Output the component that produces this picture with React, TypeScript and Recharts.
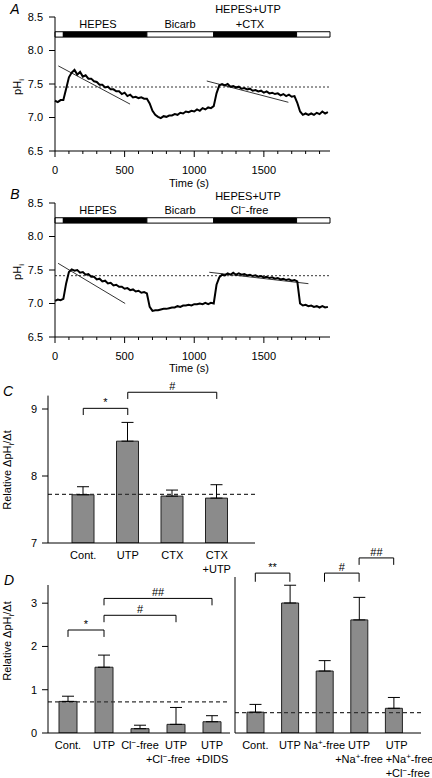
import React from 'react';
import {
  LineChart, Line, BarChart, Bar, ErrorBar, XAxis, YAxis,
  ReferenceArea, ReferenceLine,
} from 'recharts';

const FONT = '"Liberation Sans", Arial, Helvetica, sans-serif';

// pHi recordings, [time (s), pHi]
const traceA: [number, number][] = [
  [0, 7.25], [20, 7.23], [40, 7.26], [60, 7.26], [80, 7.43], [100, 7.6], [120, 7.67], [140, 7.71],
  [160, 7.64], [180, 7.68], [200, 7.61], [220, 7.63], [240, 7.58], [260, 7.58], [280, 7.54], [300, 7.53],
  [320, 7.49], [340, 7.49], [360, 7.45], [380, 7.46], [400, 7.42], [420, 7.42], [440, 7.39], [460, 7.39],
  [480, 7.35], [500, 7.37], [520, 7.32], [540, 7.34], [560, 7.3], [580, 7.31], [600, 7.29], [620, 7.3],
  [640, 7.28], [660, 7.28], [680, 7.21], [700, 7.1], [720, 7.04], [740, 7.01], [760, 6.99], [780, 7.02],
  [800, 7.01], [820, 7.03], [840, 7.03], [860, 7.05], [880, 7.04], [900, 7.07], [920, 7.06], [940, 7.09],
  [960, 7.08], [980, 7.1], [1000, 7.09], [1020, 7.12], [1040, 7.1], [1060, 7.14], [1080, 7.12], [1100, 7.15],
  [1120, 7.14], [1140, 7.17], [1160, 7.36], [1180, 7.48], [1200, 7.5], [1220, 7.48], [1240, 7.5], [1260, 7.46],
  [1280, 7.47], [1300, 7.45], [1320, 7.46], [1340, 7.43], [1360, 7.44], [1380, 7.42], [1400, 7.43], [1420, 7.4],
  [1440, 7.41], [1460, 7.39], [1480, 7.4], [1500, 7.37], [1520, 7.39], [1540, 7.36], [1560, 7.37], [1580, 7.35],
  [1600, 7.36], [1620, 7.33], [1640, 7.35], [1660, 7.32], [1680, 7.34], [1700, 7.31], [1720, 7.32], [1740, 7.22],
  [1760, 7.09], [1780, 7.04], [1800, 7.06], [1820, 7.04], [1840, 7.06], [1860, 7.04], [1880, 7.07], [1900, 7.05],
  [1920, 7.09], [1940, 7.06], [1960, 7.08],
];

const traceB: [number, number][] = [
  [0, 7.04], [20, 7.06], [40, 7.05], [60, 7.07], [80, 7.3], [100, 7.47], [120, 7.51], [140, 7.49],
  [160, 7.5], [180, 7.46], [200, 7.47], [220, 7.43], [240, 7.44], [260, 7.4], [280, 7.4], [300, 7.36],
  [320, 7.37], [340, 7.33], [360, 7.34], [380, 7.3], [400, 7.31], [420, 7.27], [440, 7.28], [460, 7.25],
  [480, 7.25], [500, 7.22], [520, 7.23], [540, 7.2], [560, 7.21], [580, 7.18], [600, 7.19], [620, 7.16],
  [640, 7.17], [660, 7.15], [680, 6.95], [700, 6.89], [720, 6.9], [740, 6.9], [760, 6.91], [780, 6.92],
  [800, 6.92], [820, 6.93], [840, 6.94], [860, 6.94], [880, 6.96], [900, 6.95], [920, 6.97], [940, 6.97],
  [960, 6.98], [980, 6.97], [1000, 6.99], [1020, 6.99], [1040, 7.0], [1060, 6.99], [1080, 7.01], [1100, 6.99],
  [1120, 7.01], [1140, 7.0], [1160, 7.28], [1180, 7.39], [1200, 7.43], [1220, 7.42], [1240, 7.45], [1260, 7.43],
  [1280, 7.46], [1300, 7.43], [1320, 7.45], [1340, 7.43], [1360, 7.44], [1380, 7.42], [1400, 7.43], [1420, 7.41],
  [1440, 7.42], [1460, 7.4], [1480, 7.41], [1500, 7.39], [1520, 7.4], [1540, 7.38], [1560, 7.39], [1580, 7.37],
  [1600, 7.38], [1620, 7.36], [1640, 7.37], [1660, 7.35], [1680, 7.36], [1700, 7.34], [1720, 7.35], [1740, 7.33],
  [1760, 7.0], [1780, 6.97], [1800, 6.98], [1820, 6.96], [1840, 6.97], [1860, 6.95], [1880, 6.96], [1900, 6.94],
  [1920, 6.96], [1940, 6.94], [1960, 6.95],
];

const timeTicks = [0, 100, 200, 300, 400, 500, 600, 700, 800, 900, 1000, 1100, 1200, 1300, 1400, 1500, 1600, 1700, 1800, 1900];
const phTicks = [6.5, 7, 7.5, 8, 8.5];

// solution bar: segment edges (s) and which segments are filled
const stimEdges = [0, 60, 660, 1140, 1735, 1975];
const stimFilled = [false, true, false, true, false];

// fitted slopes [t1, pH1, t2, pH2]
const slopesA = [[24, 7.77, 539, 7.2], [1090, 7.545, 1676, 7.227]];
const slopesB = [[22, 7.6, 504, 7.0], [1108, 7.466, 1820, 7.296]];
const refPhA = 7.455;
const refPhB = 7.415;

// panel C
const cCats = ['Cont.', 'UTP', 'CTX', 'CTX\n+UTP'];
const cMeans = [7.72, 8.52, 7.7, 7.67];
const cErrs = [0.12, 0.28, 0.09, 0.2];
const cTicks = [7, 8, 9];
const cRef = 7.725;

// panel D
const dLeftCats = ['Cont.', 'UTP', 'Cl⁻-free', 'UTP\n+Cl⁻-free', 'UTP\n+DIDS'];
const dLeftMeans = [0.73, 1.52, 0.1, 0.2, 0.26];
const dLeftErrs = [0.12, 0.28, 0.08, 0.39, 0.14];
const dLeftRef = 0.72;
const dRightCats = ['Cont.', 'UTP', 'Na⁺-free', 'UTP\n+Na⁺-free', 'UTP\n+Na⁺-free\n+Cl⁻-free'];
const dRightMeans = [0.48, 3.0, 1.43, 2.61, 0.57];
const dRightErrs = [0.18, 0.41, 0.24, 0.52, 0.25];
const dRightRef = 0.47;
const dTicks = [0, 1, 2, 3];

type Bracket = { from: string; to: string; y: number; leg: number; mark: string };
const cBrackets: Bracket[] = [
  { from: 'Cont.', to: 'UTP', y: 9.01, leg: 8.91, mark: '*' },
  { from: 'UTP', to: 'CTX\n+UTP', y: 9.25, leg: 9.15, mark: '#' },
];
const dLeftBrackets: Bracket[] = [
  { from: 'Cont.', to: 'UTP', y: 2.38, leg: 2.22, mark: '*' },
  { from: 'UTP', to: 'UTP\n+Cl⁻-free', y: 2.72, leg: 2.56, mark: '#' },
  { from: 'UTP', to: 'UTP\n+DIDS', y: 3.11, leg: 2.95, mark: '##' },
];
const dRightBrackets: Bracket[] = [
  { from: 'Cont.', to: 'UTP', y: 3.69, leg: 3.49, mark: '**' },
  { from: 'Na⁺-free', to: 'UTP\n+Na⁺-free', y: 3.69, leg: 3.49, mark: '#' },
  { from: 'UTP\n+Na⁺-free', to: 'UTP\n+Na⁺-free\n+Cl⁻-free', y: 4.04, leg: 3.88, mark: '##' },
];

const BAR_FILL = '#8b8b8b';
const INK = '#000';

const supText = (s: string) => {
  const out: React.ReactNode[] = [];
  let raised = false;
  s.split(/([⁺⁻])/).forEach((part, i) => {
    if (!part) return;
    if (part === '⁺' || part === '⁻') {
      out.push(<tspan key={i} dy={-4} fontSize={8}>{part === '⁺' ? '+' : '−'}</tspan>);
      raised = true;
    } else {
      out.push(<tspan key={i} dy={raised ? 4 : 0}>{part}</tspan>);
      raised = false;
    }
  });
  return out;
};

const TimeTick = (props: any) => {
  const { x, y, payload } = props;
  const major = payload.value % 500 === 0;
  return (
    <g>
      <line x1={x} x2={x} y1={y} y2={y + (major ? 6 : 3)} stroke={INK} />
      {major && (
        <text x={x} y={y + 23} textAnchor="middle" fontSize={11} fontFamily={FONT} fill={INK}>
          {payload.value}
        </text>
      )}
    </g>
  );
};

type TickShift = Record<string, { anchor?: 'start' | 'middle' | 'end'; dx: number[] }>;

const makeCatTick = (shift: TickShift) => (props: any) => {
  const { x, y, payload } = props;
  const name = String(payload.value);
  const s = shift[name];
  return (
    <g>
      {name.split('\n').map((ln, i) => (
        <text
          key={i}
          x={x + (s ? s.dx[i] ?? 0 : 0)}
          y={y + 16 + i * 14}
          textAnchor={s?.anchor ?? 'middle'}
          fontSize={11}
          fontFamily={FONT}
          fill={INK}
        >
          {supText(ln)}
        </text>
      ))}
    </g>
  );
};

const bracketLines = (list: Bracket[]) =>
  list.flatMap((b, i) => [
    <ReferenceLine
      key={`h${i}`}
      segment={[{ x: b.from, y: b.y }, { x: b.to, y: b.y }]}
      stroke={INK}
      ifOverflow="visible"
      label={{ value: b.mark, position: 'top', offset: 2, fill: INK, fontSize: 11, fontFamily: FONT }}
    />,
    <ReferenceLine key={`l${i}`} segment={[{ x: b.from, y: b.y }, { x: b.from, y: b.leg }]} stroke={INK} ifOverflow="visible" />,
    <ReferenceLine key={`r${i}`} segment={[{ x: b.to, y: b.y }, { x: b.to, y: b.leg }]} stroke={INK} ifOverflow="visible" />,
  ]);

const Txt = ({ x, y, size = 11, italic, rotate, children }: any) => (
  <div
    style={{
      position: 'absolute',
      left: x,
      top: y,
      transform: `translate(-50%, -50%)${rotate ? ' rotate(-90deg)' : ''}`,
      fontSize: size,
      fontStyle: italic ? 'italic' : 'normal',
      lineHeight: 1,
      whiteSpace: 'nowrap',
      fontFamily: FONT,
      color: INK,
    }}
  >
    {children}
  </div>
);

function TracePanel({ trace, slopes, refPh, top }: { trace: [number, number][]; slopes: number[][]; refPh: number; top: number }) {
  const data = trace.map(([t, ph]) => ({ t, ph }));
  return (
    <div style={{ position: 'absolute', left: 0, top }}>
      <LineChart width={340} height={200} data={data} margin={{ top: 17, right: 10, bottom: 19, left: 15 }}>
        <XAxis
          dataKey="t"
          type="number"
          domain={[0, 1975]}
          ticks={timeTicks}
          interval={0}
          height={30}
          tickLine={false}
          tickSize={0}
          tickMargin={0}
          axisLine={{ stroke: INK }}
          tick={<TimeTick />}
        />
        <YAxis
          type="number"
          domain={[6.5, 8.5]}
          ticks={phTicks}
          width={40}
          tickSize={6}
          tickMargin={6}
          axisLine={{ stroke: INK }}
          tickLine={{ stroke: INK }}
          tick={{ fill: INK, fontSize: 11, fontFamily: FONT }}
          tickFormatter={(v: number) => v.toFixed(1)}
        />
        {stimFilled.map((f, i) => (
          <ReferenceArea
            key={i}
            x1={stimEdges[i]}
            x2={stimEdges[i + 1]}
            y1={8.2}
            y2={8.28}
            fill={f ? INK : '#fff'}
            fillOpacity={1}
            stroke={INK}
            strokeWidth={1}
            ifOverflow="visible"
          />
        ))}
        <ReferenceLine y={refPh} stroke={INK} strokeDasharray="2 2" strokeWidth={0.8} />
        {slopes.map((s, i) => (
          <ReferenceLine key={i} segment={[{ x: s[0], y: s[1] }, { x: s[2], y: s[3] }]} stroke={INK} strokeWidth={0.8} ifOverflow="visible" />
        ))}
        <Line dataKey="ph" type="linear" stroke={INK} strokeWidth={2} dot={false} isAnimationActive={false} />
      </LineChart>
    </div>
  );
}

function BarPanel(props: {
  cats: string[]; means: number[]; errs: number[]; refY: number; brackets: Bracket[];
  domain: [number, number]; ticks?: number[]; left: number; top: number; width: number; height: number;
  margin: { top: number; right: number; bottom: number; left: number }; yWidth: number;
  padding: { left: number; right: number }; xHeight: number; barSize: number; capWidth: number; shift: TickShift;
}) {
  const data = props.cats.map((name, i) => ({ name, value: props.means[i], err: [0, props.errs[i]] }));
  const showTicks = !!props.ticks;
  return (
    <div style={{ position: 'absolute', left: props.left, top: props.top }}>
      <BarChart width={props.width} height={props.height} data={data} margin={props.margin} barSize={props.barSize}>
        <XAxis
          dataKey="name"
          interval={0}
          height={props.xHeight}
          padding={props.padding}
          tickLine={false}
          tickSize={0}
          tickMargin={0}
          axisLine={{ stroke: INK }}
          tick={makeCatTick(props.shift)}
        />
        <YAxis
          type="number"
          domain={props.domain}
          allowDataOverflow
          ticks={showTicks ? props.ticks : []}
          width={props.yWidth}
          tick={showTicks ? { fill: INK, fontSize: 11, fontFamily: FONT } : false}
          tickLine={showTicks ? { stroke: INK } : false}
          tickSize={6}
          tickMargin={5}
          axisLine={{ stroke: INK }}
        />
        <ReferenceLine y={props.refY} stroke="#333" strokeDasharray="4 3" strokeWidth={1.2} />
        <Bar dataKey="value" fill={BAR_FILL} stroke="#222" strokeWidth={1} isAnimationActive={false}>
          <ErrorBar dataKey="err" width={props.capWidth} stroke={INK} strokeWidth={1} direction="y" />
        </Bar>
        {bracketLines(props.brackets)}
      </BarChart>
    </div>
  );
}

const RelLabel = () => (
  <span>
    Relative ΔpH<sub style={{ fontSize: 8 }}>i</sub>/Δt
  </span>
);

export default function App() {
  return (
    <div style={{ position: 'absolute', left: 0, top: 0, width: 432, height: 778, background: '#fff', overflow: 'hidden', fontFamily: FONT }}>
      <TracePanel trace={traceA} slopes={slopesA} refPh={refPhA} top={0} />
      <TracePanel trace={traceB} slopes={slopesB} refPh={refPhB} top={186} />

      <BarPanel
        cats={cCats} means={cMeans} errs={cErrs} refY={cRef} brackets={cBrackets}
        domain={[7, 9.2]} ticks={cTicks} left={0} top={375} width={265} height={205}
        margin={{ top: 20.6, right: 10, bottom: 7, left: 8 }} yWidth={40}
        padding={{ left: 13, right: 16 }} xHeight={30} barSize={22} capWidth={6} shift={{}}
      />
      <BarPanel
        cats={dLeftCats} means={dLeftMeans} errs={dLeftErrs} refY={dLeftRef} brackets={dLeftBrackets}
        domain={[0, 3.42]} ticks={dTicks} left={0} top={540} width={240} height={238}
        margin={{ top: 45, right: 10, bottom: 0, left: 8 }} yWidth={40}
        padding={{ left: 2, right: 0 }} xHeight={45} barSize={18} capWidth={6}
        shift={{ 'UTP\n+Cl⁻-free': { dx: [0, -8] } }}
      />
      <BarPanel
        cats={dRightCats} means={dRightMeans} errs={dRightErrs} refY={dRightRef} brackets={dRightBrackets}
        domain={[0, 3.6]} left={225} top={540} width={207} height={238}
        margin={{ top: 37, right: 11, bottom: 0, left: 5 }} yWidth={5}
        padding={{ left: 3, right: 10 }} xHeight={45} barSize={17} capWidth={6}
        shift={{ 'UTP\n+Na⁺-free\n+Cl⁻-free': { anchor: 'start', dx: [-8, -8, -8] } }}
      />

      {/* panel letters */}
      <Txt x={15} y={9} size={14} italic>A</Txt>
      <Txt x={15} y={194} size={14} italic>B</Txt>
      <Txt x={8} y={391} size={14} italic>C</Txt>
      <Txt x={9} y={580} size={14} italic>D</Txt>

      {/* solution labels */}
      <Txt x={98} y={23.5}>HEPES</Txt>
      <Txt x={180} y={23.5}>Bicarb</Txt>
      <Txt x={248} y={8.5}>HEPES+UTP</Txt>
      <Txt x={250} y={23.5}>+CTX</Txt>
      <Txt x={98} y={209.5}>HEPES</Txt>
      <Txt x={180} y={209.5}>Bicarb</Txt>
      <Txt x={248} y={195.5}>HEPES+UTP</Txt>
      <Txt x={249.5} y={209.5}>
        Cl<sup style={{ fontSize: 8 }}>−</sup>-free
      </Txt>

      {/* axis titles */}
      <Txt x={19} y={87} rotate>
        pH<sub style={{ fontSize: 8 }}>i</sub>
      </Txt>
      <Txt x={19} y={272} rotate>
        pH<sub style={{ fontSize: 8 }}>i</sub>
      </Txt>
      <Txt x={189} y={182.5}>Time (s)</Txt>
      <Txt x={189} y={368}>Time (s)</Txt>
      <Txt x={9} y={470} rotate>
        <RelLabel />
      </Txt>
      <Txt x={9} y={641} rotate>
        <RelLabel />
      </Txt>
    </div>
  );
}
